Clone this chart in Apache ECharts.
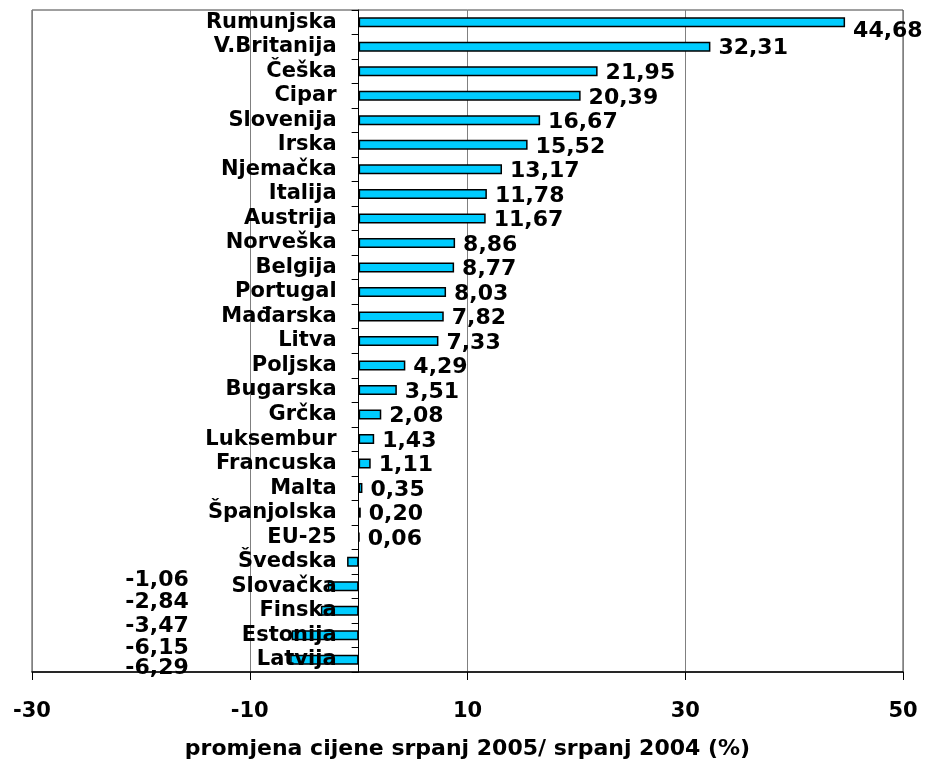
<!DOCTYPE html>
<html><head><meta charset="utf-8">
<script src="https://cdn.jsdelivr.net/npm/echarts@6/dist/echarts.min.js"></script>
<style>html,body{margin:0;padding:0;background:#fff}#c{width:928px;height:767px}</style>
</head><body><div id="c"></div>
<script>
const categories = ["Rumunjska","V.Britanija","Češka","Cipar","Slovenija","Irska","Njemačka","Italija","Austrija","Norveška","Belgija","Portugal","Mađarska","Litva","Poljska","Bugarska","Grčka","Luksembur","Francuska","Malta","Španjolska","EU-25","Švedska","Slovačka","Finska","Estonija","Latvija"];
const values = [44.68,32.31,21.95,20.39,16.67,15.52,13.17,11.78,11.67,8.86,8.77,8.03,7.82,7.33,4.29,3.51,2.08,1.43,1.11,0.35,0.20,0.06,-1.06,-2.84,-3.47,-6.15,-6.29];
const axisMin = -30, axisMax = 50, axisStep = 20;
const axisTitle = "promjena cijene srpanj 2005/ srpanj 2004 (%)";

// style-only settings
const FONT = "DejaVu Sans";
const NEG_LABEL_ANCHOR = -15.6;           // value where negative labels end (right edge)
const negLabelDy = [19, 16, 16, 13, 9];   // vertical shifts of negative labels
const fmt = v => v.toFixed(2).replace('.', ',');

const barData = values.map((v, i) => {
  if (v < 0) return { value: v, label: { show: false } };
  return { value: v, label: { show: true, offset: [0, i === 0 ? 9 : 2] } };
});
let k = 0;
const negData = [];
values.forEach((v, i) => {
  if (v < 0) {
    negData.push({ value: [NEG_LABEL_ANCHOR, categories[i]], raw: v,
      label: { offset: [0, negLabelDy[k] || 0] } });
    k++;
  }
});

const chart = echarts.init(document.getElementById('c'));
chart.setOption({
  animation: false,
  backgroundColor: '#fff',
  textStyle: { fontFamily: FONT },
  grid: { left: 32, right: 25, top: 10, bottom: 95, show: true, borderColor: '#404040', borderWidth: 1,
    containLabel: false, outerBoundsMode: 'none' },
  xAxis: {
    type: 'value', min: axisMin, max: axisMax, interval: axisStep,
    axisLine: { show: true, onZero: false, lineStyle: { color: '#000', width: 1.5 } },
    axisTick: { show: true, length: 8, lineStyle: { color: '#000' } },
    splitLine: { show: true, lineStyle: { color: '#808080', width: 1 } },
    axisLabel: { color: '#000', fontSize: 21, fontWeight: 'bold', fontFamily: FONT, margin: 29 },
    name: axisTitle, nameLocation: 'middle', nameGap: 66,
    nameTextStyle: { color: '#000', fontSize: 22, fontWeight: 'bold', fontFamily: FONT }
  },
  yAxis: {
    type: 'category', data: categories, inverse: true, z: 3, position: 'left', offset: 0,
    axisLine: { show: true, onZero: false, lineStyle: { color: '#000', width: 1 } },
    axisTick: { show: true, length: 7, lineStyle: { color: '#000' } },
    splitLine: { show: false },
    axisLabel: { interval: 0, color: '#000', fontSize: 21, fontWeight: 'bold', fontFamily: FONT, margin: 22,
      padding: [3, 0, 0, 0] }
  },
  series: [
    {
      type: 'bar', data: barData, barWidth: 10,
      itemStyle: { color: '#00CCFF', borderColor: '#000', borderWidth: 1.5 },
      label: { show: true, position: 'right', distance: 8, color: '#000', fontSize: 22, fontWeight: 'bold', fontFamily: FONT,
        formatter: p => fmt(p.value) }
    },
    {
      type: 'scatter', data: negData, symbolSize: 0, silent: true, z: 4,
      itemStyle: { opacity: 1 },
      label: { show: true, position: 'left', distance: 0, color: '#000', fontSize: 22, fontWeight: 'bold', fontFamily: FONT,
        formatter: p => fmt(p.data.raw) }
    }
  ]
});
// move the category axis (line, ticks, labels) onto the value axis zero
const px0 = chart.convertToPixel({ xAxisIndex: 0 }, 0);
const pxMin = chart.convertToPixel({ xAxisIndex: 0 }, axisMin);
chart.setOption({ yAxis: { offset: -(px0 - pxMin) } });
</script></body></html>
